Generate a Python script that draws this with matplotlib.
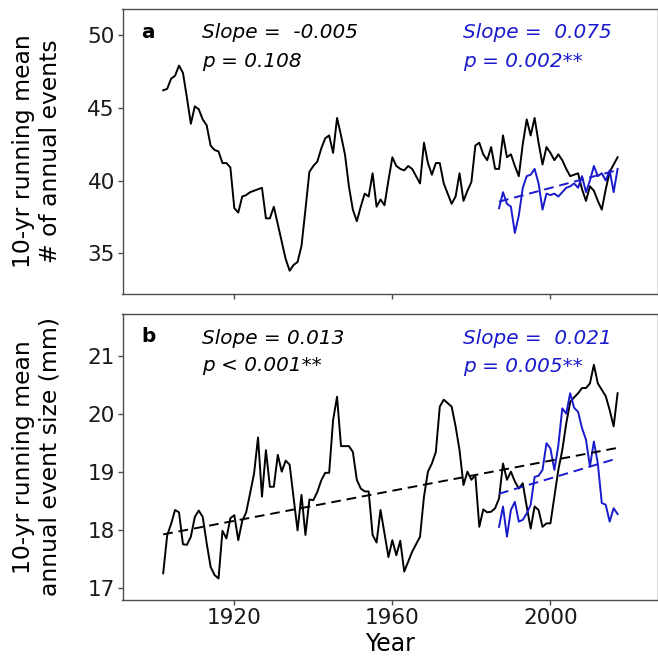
import numpy as np
import matplotlib
matplotlib.use("Agg")
import matplotlib.pyplot as plt

plt.rcParams['font.family'] = ['DejaVu Sans']

# ---------------- data ----------------
years_all = np.arange(1902, 2018)
years_recent = np.arange(1987, 2018)

events_long = [
    46.2, 46.3, 47.0, 47.2, 47.9, 47.4, 45.7, 43.9, 45.1, 44.9,   # 1902-1911
    44.2, 43.8, 42.4, 42.1, 42.0, 41.2, 41.2, 40.9, 38.1, 37.8,   # 1912-1921
    38.9, 39.0, 39.2, 39.3, 39.4, 39.5, 37.4, 37.4, 38.2, 37.0,   # 1922-1931
    35.8, 34.6, 33.8, 34.2, 34.4, 35.5, 38.0, 40.6, 41.0, 41.3,   # 1932-1941
    42.2, 42.9, 43.1, 41.9, 44.3, 43.1, 41.8, 39.6, 38.0, 37.2,   # 1942-1951
    38.2, 39.1, 38.9, 40.5, 38.2, 38.7, 38.3, 40.0, 41.6, 41.0,   # 1952-1961
    40.8, 40.7, 41.0, 40.8, 40.3, 39.8, 42.6, 41.2, 40.4, 41.2,   # 1962-1971
    41.2, 39.8, 39.1, 38.4, 38.9, 40.5, 38.6, 39.3, 39.9, 42.4,   # 1972-1981
    42.6, 41.8, 41.4, 42.3, 40.8, 40.8, 43.1, 41.6, 41.8, 41.0,   # 1982-1991
    40.3, 42.5, 44.2, 43.1, 44.3, 42.6, 41.1, 42.3, 41.9, 41.4,   # 1992-2001
    41.8, 41.4, 40.8, 40.3, 40.4, 40.5, 39.4, 38.6, 39.6, 39.3,   # 2002-2011
    38.6, 38.0, 39.4, 40.6, 41.1, 41.6,                           # 2012-2017
]
events_recent = [
    38.1, 39.2, 38.4, 38.2, 36.4, 37.6, 39.5, 40.3, 40.4, 40.8,   # 1987-1996
    39.8, 38.0, 39.1, 39.0, 39.1, 38.9, 39.2, 39.5, 39.6, 39.8,   # 1997-2006
    39.5, 40.3, 39.2, 40.0, 41.0, 40.3, 40.5, 40.0, 40.7, 39.2,   # 2007-2016
    40.8,                                                         # 2017
]
size_long = [
    17.25, 17.90, 18.10, 18.34, 18.30, 17.75, 17.74, 17.88, 18.22, 18.33,  # 1902-1911
    18.22, 17.77, 17.36, 17.22, 17.16, 17.98, 17.85, 18.20, 18.25, 17.82,  # 1912-1921
    18.15, 18.30, 18.63, 18.97, 19.59, 18.57, 19.37, 18.74, 18.74, 19.29,  # 1922-1931
    19.00, 19.19, 19.12, 18.55, 17.99, 18.60, 17.91, 18.52, 18.51, 18.65,  # 1932-1941
    18.85, 18.98, 18.98, 19.89, 20.29, 19.44, 19.44, 19.44, 19.34, 18.86,  # 1942-1951
    18.71, 18.66, 18.66, 17.91, 17.78, 18.34, 17.94, 17.53, 17.82, 17.56,  # 1952-1961
    17.81, 17.28, 17.45, 17.62, 17.75, 17.88, 18.57, 19.00, 19.14, 19.34,  # 1962-1971
    20.12, 20.24, 20.18, 20.12, 19.78, 19.37, 18.77, 19.00, 18.86, 18.94,  # 1972-1981
    18.05, 18.35, 18.30, 18.31, 18.37, 18.54, 19.14, 18.86, 19.00, 18.83,  # 1982-1991
    18.71, 18.80, 18.40, 18.02, 18.40, 18.34, 18.05, 18.11, 18.11, 18.57,  # 1992-2001
    19.03, 19.37, 19.83, 20.20, 20.28, 20.35, 20.44, 20.44, 20.52, 20.84,  # 2002-2011
    20.52, 20.41, 20.30, 20.06, 19.78, 20.35,                              # 2012-2017
]
size_recent = [
    18.05, 18.40, 17.88, 18.34, 18.48, 18.14, 18.17, 18.28, 18.43, 18.91,  # 1987-1996
    18.93, 19.03, 19.49, 19.40, 19.03, 19.45, 20.09, 20.00, 20.35, 20.10,  # 1997-2006
    20.03, 19.75, 19.55, 19.09, 19.52, 19.14, 18.46, 18.43, 18.14, 18.37,  # 2007-2016
    18.27,                                                                 # 2017
]

# fitted trend lines (value at first and last year)
trend_a_recent_years = [1987, 2017]
trend_a_recent_vals = [38.55, 40.72]
trend_b_long_years = [1902, 2017]
trend_b_long_vals = [17.92, 19.41]
trend_b_recent_years = [1987, 2017]
trend_b_recent_vals = [18.62, 19.23]

labels_a_black = ["Slope =  -0.005", "p = 0.108"]
labels_a_blue = ["Slope =  0.075", "p = 0.002**"]
labels_b_black = ["Slope = 0.013", "p < 0.001**"]
labels_b_blue = ["Slope =  0.021", "p = 0.005**"]

xticks = [1920, 1960, 2000]
yticks_a = [35, 40, 45, 50]
yticks_b = [17, 18, 19, 20, 21]

# ---------------- plotting ----------------
BLUE = '#1a1acd'
FRAME = '#4d4d4d'
W, H = 658, 661
fig = plt.figure(figsize=(W / 100, H / 100), dpi=100)

def px_axes(l, t, r, b):
    return fig.add_axes([l / W, 1 - b / H, (r - l) / W, (b - t) / H])

ax1 = px_axes(122.5, 9, 657.5, 294.3)
ax2 = px_axes(122.5, 314.3, 657.5, 600)

lw = 1.4
ax1.plot(years_all, events_long, color='black', lw=lw)
ax1.plot(years_recent, events_recent, color=BLUE, lw=lw)
ax1.plot(trend_a_recent_years, trend_a_recent_vals, color=BLUE, lw=lw,
         dashes=(5, 3))

ax2.plot(years_all, size_long, color='black', lw=lw)
ax2.plot(years_recent, size_recent, color=BLUE, lw=lw)
ax2.plot(trend_b_long_years, trend_b_long_vals, color='black', lw=lw,
         dashes=(5, 3))
ax2.plot(trend_b_recent_years, trend_b_recent_vals, color=BLUE, lw=lw,
         dashes=(5, 3))

xlim = (1891.7, 2027.1)
ax1.set_xlim(xlim)
ax2.set_xlim(xlim)
ax1.set_ylim(32.18, 51.79)
ax2.set_ylim(16.79, 21.71)

for ax in (ax1, ax2):
    ax.set_xticks(xticks)
    for s in ax.spines.values():
        s.set_color(FRAME)
        s.set_linewidth(1.0)
    ax.tick_params(direction='out', length=3.5, width=1.0, color=FRAME,
                   labelsize=15.5, labelcolor='#1a1a1a', pad=2)

ax1.set_yticks(yticks_a)
ax2.set_yticks(yticks_b)
ax1.tick_params(axis='x', labelbottom=False)
ax2.set_xticklabels([str(v) for v in xticks])

fig.text(37 / W, 1 - 151.5 / H, "10-yr running mean\n# of annual events",
         fontsize=16.9, rotation=90, ha='center', va='center',
         multialignment='center', linespacing=1.2)
fig.text(37 / W, 1 - 457 / H, "10-yr running mean\nannual event size (mm)",
         fontsize=16.9, rotation=90, ha='center', va='center',
         multialignment='center', linespacing=1.2)
ax2.set_xlabel("Year", fontsize=17, labelpad=3)

fs = 14.4
# panel a texts
ax1.text(1898.2, 50.15, "a", fontsize=fs, fontweight='bold', va='center', ha='center')
ax1.text(1911.8, 50.15, labels_a_black[0], fontsize=fs, style='italic', va='center')
ax1.text(1911.8, 48.2, labels_a_black[1], fontsize=fs, style='italic', va='center')
ax1.text(1977.8, 50.15, labels_a_blue[0], fontsize=fs, style='italic', va='center', color=BLUE)
ax1.text(1977.8, 48.2, labels_a_blue[1], fontsize=fs, style='italic', va='center', color=BLUE)

# panel b texts
ax2.text(1898.2, 21.32, "b", fontsize=fs, fontweight='bold', va='center', ha='center')
ax2.text(1911.8, 21.30, labels_b_black[0], fontsize=fs, style='italic', va='center')
ax2.text(1911.8, 20.82, labels_b_black[1], fontsize=fs, style='italic', va='center')
ax2.text(1977.8, 21.29, labels_b_blue[0], fontsize=fs, style='italic', va='center', color=BLUE)
ax2.text(1977.8, 20.81, labels_b_blue[1], fontsize=fs, style='italic', va='center', color=BLUE)

fig.savefig("out.png", dpi=100)
